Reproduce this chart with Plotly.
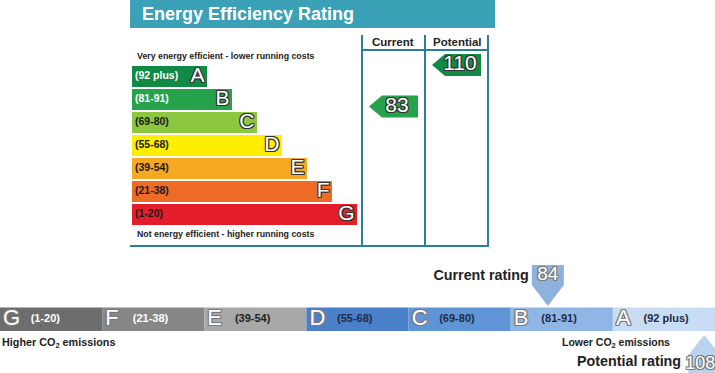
import plotly.graph_objects as go

# ---------------- data ----------------
bands = ["A", "B", "C", "D", "E", "F", "G"]
band_ranges = ["(92 plus)", "(81-91)", "(69-80)", "(55-68)", "(39-54)", "(21-38)", "(1-20)"]
band_low = [92, 81, 69, 55, 39, 21, 1]
band_high = [110, 91, 80, 68, 54, 38, 20]
bar_lengths = [3, 4, 5, 6, 7, 8, 9]

current_eff = 83
potential_eff = 110
current_env = 84
potential_env = 108

# ---------------- style ----------------
W, H = 715, 373
FONT = "Liberation Sans, Arial, sans-serif"
eff_colors = ["#118a45", "#25a24a", "#8dc63f", "#ffee00", "#f7a823", "#ee6b26", "#e31e2a"]
eff_label_colors = ["white", "white", "#1a1a1a", "#1a1a1a", "#1a1a1a", "#1a1a1a", "#1a1a1a"]
env_colors = ["#c8ddf3", "#8fb6e5", "#5f95d7", "#4a80c9", "#a8a8a8", "#878787", "#6d6d6d"]
env_label_colors = ["#1f2a44", "#1f2a44", "#1f2a44", "#1f2a44", "#222222", "white", "white"]
frame = "#2a7e95"
OUT_DARK = "1px 1px 0 #333, -1px -1px 0 #333, 1px -1px 0 #333, -1px 1px 0 #333, 0 1px 0 #333, 0 -1px 0 #333, 1px 0 0 #333, -1px 0 0 #333"
OUT_GRAY = "1px 1px 0 #7a7a7a, -1px -1px 0 #7a7a7a, 1px -1px 0 #7a7a7a, -1px 1px 0 #7a7a7a, 0 1px 0 #7a7a7a, 0 -1px 0 #7a7a7a, 1px 0 0 #7a7a7a, -1px 0 0 #7a7a7a"


def X(px):
    return px / W


def Y(py):
    return 1 - py / H


def band_of(v):
    for i, lo in enumerate(band_low):
        if v >= lo:
            return i
    return len(bands) - 1


def eff_pos(v):
    i = band_of(v)
    return i - 0.5 + (band_high[i] - v) / (band_high[i] - band_low[i])


def env_pos(v):
    i = band_of(v)
    seg = len(bands) - 1 - i
    return seg + (v - band_low[i] + 1) / (band_high[i] - band_low[i] + 1)


fig = go.Figure()
idx = list(range(len(bands)))

# ---------------- top: energy efficiency ----------------
fig.add_trace(go.Bar(orientation="h", y=idx, x=bar_lengths, width=0.92,
                     marker=dict(color=eff_colors, line=dict(width=0)),
                     xaxis="x", yaxis="y", hoverinfo="skip"))
fig.add_trace(go.Scatter(x=[0.12] * 7, y=idx, mode="text", text=band_ranges,
                         textposition="middle right",
                         textfont=dict(family=FONT, size=10.5, weight="bold", color=eff_label_colors),
                         xaxis="x", yaxis="y", hoverinfo="skip"))
fig.add_trace(go.Scatter(x=[L - 0.1 for L in bar_lengths], y=idx, mode="text", text=bands,
                         textposition="middle left",
                         textfont=dict(family=FONT, size=21, color="white", shadow=OUT_DARK),
                         xaxis="x", yaxis="y", hoverinfo="skip"))

UNIT = 25.0  # px per x unit in top chart
col_cur = ((362 - 132) / UNIT, (425 - 132) / UNIT)
col_pot = ((425 - 132) / UNIT, (488 - 132) / UNIT)
for val, col in [(current_eff, col_cur), (potential_eff, col_pot)]:
    yc = eff_pos(val)
    tip = col[0] + 7 / UNIT
    right = col[1] - 7 / UNIT
    pw = 13 / UNIT
    hh = 11 / 23
    fig.add_trace(go.Scatter(
        x=[tip, tip + pw, right, right, tip + pw, tip],
        y=[yc, yc - hh, yc - hh, yc + hh, yc + hh, yc],
        fill="toself", fillcolor=eff_colors[band_of(val)], mode="lines",
        line=dict(width=0), xaxis="x", yaxis="y", hoverinfo="skip"))
    fig.add_trace(go.Scatter(
        x=[(tip + pw + right) / 2 - 0.12], y=[yc], mode="text", text=[str(val)],
        textposition="middle center",
        textfont=dict(family=FONT, size=21, color="white", shadow=OUT_DARK),
        xaxis="x", yaxis="y", hoverinfo="skip"))

# ---------------- bottom: environmental bar ----------------
seg_letters = bands[::-1]
seg_ranges = band_ranges[::-1]
seg_colors = env_colors[::-1]
seg_label_colors = env_label_colors[::-1]
segs = list(range(len(bands)))
fig.add_trace(go.Bar(x=[s + 0.5 for s in segs], y=[1] * 7, base=0, width=1,
                     marker=dict(color=seg_colors, line=dict(width=0)),
                     xaxis="x2", yaxis="y2", hoverinfo="skip"))
fig.add_trace(go.Scatter(x=[s + 0.03 for s in segs], y=[0.5] * 7, mode="text", text=seg_letters,
                         textposition="middle right",
                         textfont=dict(family=FONT, size=22, color="white", shadow=OUT_GRAY),
                         xaxis="x2", yaxis="y2", hoverinfo="skip"))
fig.add_trace(go.Scatter(x=[s + 0.3 for s in segs], y=[0.5] * 7, mode="text", text=seg_ranges,
                         textposition="middle right",
                         textfont=dict(family=FONT, size=11, weight="bold", color=seg_label_colors),
                         xaxis="x2", yaxis="y2", hoverinfo="skip"))

SEGPX = W / 7.0
YPX = 23.5


def ybot(py):
    return (331 - py) / YPX


hw = 16 / SEGPX
# current (above, pointing down)
xc = env_pos(current_env)
fig.add_trace(go.Scatter(
    x=[xc, xc + hw, xc + hw, xc - hw, xc - hw, xc],
    y=[ybot(306), ybot(285), ybot(265), ybot(265), ybot(285), ybot(306)],
    fill="toself", fillcolor="#8fb2dd", mode="lines", line=dict(width=0),
    xaxis="x2", yaxis="y2", hoverinfo="skip"))
fig.add_trace(go.Scatter(
    x=[xc], y=[ybot(275)], mode="text", text=[str(current_env)], textposition="middle center",
    textfont=dict(family=FONT, size=19, color="white", shadow=OUT_GRAY),
    xaxis="x2", yaxis="y2", hoverinfo="skip"))
fig.add_trace(go.Scatter(
    x=[xc - hw - 0.03], y=[ybot(276)], mode="text", text=["Current rating"], textposition="middle left",
    textfont=dict(family=FONT, size=14.3, weight="bold", color="#222222"),
    xaxis="x2", yaxis="y2", hoverinfo="skip"))

# potential (below, pointing up)
xp = env_pos(potential_env)
fig.add_trace(go.Scatter(
    x=[xp, xp + hw, xp + hw, xp - hw, xp - hw, xp],
    y=[ybot(335), ybot(355), ybot(385), ybot(385), ybot(355), ybot(335)],
    fill="toself", fillcolor="#b9d3ef", mode="lines", line=dict(width=0),
    xaxis="x2", yaxis="y2", hoverinfo="skip"))
fig.add_trace(go.Scatter(
    x=[xp - 0.04], y=[ybot(364)], mode="text", text=[str(potential_env)], textposition="middle center",
    textfont=dict(family=FONT, size=18, color="white", shadow=OUT_GRAY),
    xaxis="x2", yaxis="y2", hoverinfo="skip"))
fig.add_trace(go.Scatter(
    x=[xp - hw - 0.07], y=[ybot(362)], mode="text", text=["Potential rating"], textposition="middle left",
    textfont=dict(family=FONT, size=14.3, weight="bold", color="#222222"),
    xaxis="x2", yaxis="y2", hoverinfo="skip"))

# ---------------- layout decorations ----------------
shapes = [
    dict(type="rect", xref="paper", yref="paper", x0=X(130), x1=X(495), y0=Y(28), y1=Y(0),
         fillcolor="#3aa1b6", line=dict(width=0), layer="below"),
]
for px in (362, 425, 488):
    shapes.append(dict(type="line", xref="paper", yref="paper", x0=X(px), x1=X(px), y0=Y(35), y1=Y(246),
                       line=dict(color=frame, width=2)))
shapes.append(dict(type="line", xref="paper", yref="paper", x0=X(362), x1=X(488), y0=Y(50), y1=Y(50),
                   line=dict(color=frame, width=2)))
shapes.append(dict(type="line", xref="paper", yref="paper", x0=X(130), x1=X(489), y0=Y(246), y1=Y(246),
                   line=dict(color=frame, width=2)))

def ann(text, px, py, size, anchor="left", color="#222222", bold=True):
    return dict(text=text, x=X(px), y=Y(py), xref="paper", yref="paper", xanchor=anchor, yanchor="middle",
                showarrow=False, font=dict(family=FONT, size=size, color=color, weight="bold" if bold else "normal"))

annotations = [
    ann("Energy Efficiency Rating", 140, 14, 18, color="white"),
    ann("Very energy efficient - lower running costs", 135, 56, 8.8),
    ann("Not energy efficient - higher running costs", 135, 234, 8.8),
    ann("Current", 393, 42, 11.5, anchor="center"),
    ann("Potential", 457, 42, 11.5, anchor="center"),
    ann("Higher CO<sub>2</sub> emissions", 0, 343, 10.8),
    ann("Lower CO<sub>2</sub> emissions", 672, 343, 10.5, anchor="right"),
]

fig.update_layout(
    width=W, height=H, margin=dict(l=0, r=0, t=0, b=0),
    paper_bgcolor="white", plot_bgcolor="white", showlegend=False, barmode="overlay",
    xaxis=dict(domain=[X(132), X(488)], range=[0, (488 - 132) / UNIT], visible=False, fixedrange=True),
    yaxis=dict(domain=[Y(246), Y(28)], range=[(246 - 76.5) / 23, (28 - 76.5) / 23], visible=False,
               fixedrange=True),
    xaxis2=dict(domain=[0, 1], range=[0, 7], visible=False, anchor="y2", fixedrange=True),
    yaxis2=dict(domain=[0, Y(255)], range=[ybot(373), ybot(255)], visible=False, anchor="x2",
                fixedrange=True),
    shapes=shapes, annotations=annotations,
)

fig.write_html("out.html", config={"displayModeBar": False},
               post_script="document.body.style.margin='0';document.body.style.overflow='hidden';")
